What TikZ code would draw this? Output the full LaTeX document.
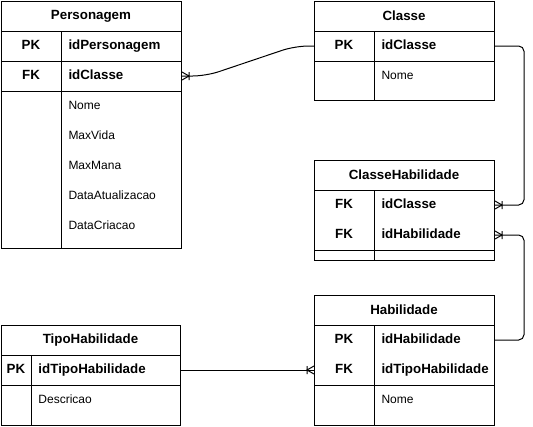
\documentclass[tikz,border=0pt]{standalone}
\usepackage{fontspec}
\setmainfont{Liberation Sans}
\usetikzlibrary{positioning}

% crow's foot with bar (one or many)
\pgfdeclarearrow{
  name = crowfoot,
  setup code = {\pgfarrowssettipend{0pt}\pgfarrowssetlineend{0pt}},
  drawing code = {
    \pgfpathmoveto{\pgfqpoint{0pt}{3pt}}
    \pgfpathlineto{\pgfqpoint{-5.25pt}{0pt}}
    \pgfpathlineto{\pgfqpoint{0pt}{-3pt}}
    \pgfpathmoveto{\pgfqpoint{-5.25pt}{3pt}}
    \pgfpathlineto{\pgfqpoint{-5.25pt}{-3pt}}
    \pgfusepathqstroke
  }
}

\tikzset{
  tbl/.style={draw, line width=0.75pt, inner sep=0pt, anchor=north west},
  ttl/.style={font=\bfseries, inner sep=0pt},
  key/.style={font=\bfseries, inner sep=0pt, text height=6.5pt, text depth=1.8pt},
  fld/.style={anchor=west, inner sep=0pt, text height=6.5pt, text depth=1.8pt},
  fldkey/.style={fld, font=\bfseries},
  rel/.style={line width=0.75pt, rounded corners=4pt}
}

\begin{document}
\begin{tikzpicture}[x=0.75pt, y=-0.75pt, line width=0.75pt, font=\fontsize{9pt}{11pt}\selectfont]

\useasboundingbox (0,0) rectangle (533,426);

% Personagem
\node [tbl, minimum width=135pt, minimum height=185.25pt] (per) at (1,1) {};
\draw (1,31) -- (181,31);
\draw (1,61) -- (181,61);
\draw (1,91) -- (181,91);
\draw (61,31) -- (61,248);
\node [ttl] (perT) at (91,16) {Personagem};
\node [key] (perPK) at (31,46) {PK};
\node [fldkey] (perIdPer) at (68,46) {idPersonagem};
\node [key] (perFK) at (31,76) {FK};
\node [fldkey] (perIdClasse) at (68,76) {idClasse};
\node [fld] (perNome) at (68,106) {Nome};
\node [fld] (perVida) at (68,136) {MaxVida};
\node [fld] (perMana) at (68,166) {MaxMana};
\node [fld] (perAtu) at (68,196) {DataAtualizacao};
\node [fld] (perCri) at (68,226) {DataCriacao};

% Classe
\node [tbl, minimum width=135pt, minimum height=74.25pt] (cls) at (314,1) {};
\draw (314,31) -- (494,31);
\draw (314,61) -- (494,61);
\draw (374,31) -- (374,100);
\node [ttl] (clsT) at (404,16) {Classe};
\node [key] (clsPK) at (344,46) {PK};
\node [fldkey] (clsIdClasse) at (381,46) {idClasse};
\node [fld] (clsNome) at (381,76) {Nome};

% ClasseHabilidade
\node [tbl, minimum width=135pt, minimum height=75pt] (ch) at (314,160) {};
\draw (314,190) -- (494,190);
\draw (314,250) -- (494,250);
\draw (374,190) -- (374,260);
\node [ttl] (chT) at (404,175) {ClasseHabilidade};
\node [key] (chFK1) at (344,205) {FK};
\node [fldkey] (chIdClasse) at (381,205) {idClasse};
\node [key] (chFK2) at (344,235) {FK};
\node [fldkey] (chIdHab) at (381,235) {idHabilidade};

% Habilidade
\node [tbl, minimum width=135pt, minimum height=97.5pt] (hab) at (314,295) {};
\draw (314,325) -- (494,325);
\draw (314,385) -- (494,385);
\draw (374,325) -- (374,425);
\node [ttl] (habT) at (404,310) {Habilidade};
\node [key] (habPK) at (344,340) {PK};
\node [fldkey] (habIdHab) at (381,340) {idHabilidade};
\node [key] (habFK) at (344,370) {FK};
\node [fldkey] (habIdTipo) at (381,370) {idTipoHabilidade};
\node [fld] (habNome) at (381,400) {Nome};

% TipoHabilidade
\node [tbl, minimum width=134.25pt, minimum height=75pt] (tip) at (1,325) {};
\draw (1,355) -- (180,355);
\draw (1,385) -- (180,385);
\draw (31,355) -- (31,425);
\node [ttl] (tipT) at (90.5,340) {TipoHabilidade};
\node [key] (tipPK) at (16,370) {PK};
\node [fldkey] (tipId) at (38,370) {idTipoHabilidade};
\node [fld] (tipDesc) at (38,400) {Descricao};

% relations
\draw [rel, rounded corners=10pt, {crowfoot}-] (perIdClasse -| per.east) -- ++(24,0) -- (295,46) -- (clsIdClasse -| cls.west);
\draw [rel, -{crowfoot}] (clsIdClasse -| cls.east) -- ++(29,0) |- (chIdClasse -| ch.east);
\draw [rel, -{crowfoot}] (habIdHab -| hab.east) -- ++(29,0) |- (chIdHab -| ch.east);
\draw [rel, -{crowfoot}] (tipId -| tip.east) -- (habIdTipo -| hab.west);

\end{tikzpicture}
\end{document}
